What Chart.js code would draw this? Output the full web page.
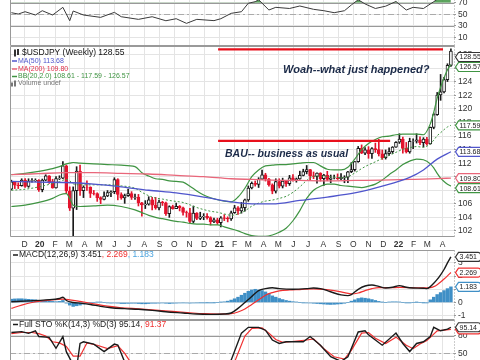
<!DOCTYPE html>
<html>
<head>
<meta charset="utf-8">
<title>USDJPY weekly</title>
<script src="https://cdn.jsdelivr.net/npm/chart.js@4.4.1/dist/chart.umd.min.js"></script>
<style>
  html, body { margin: 0; padding: 0; background: #fff; }
  body { width: 480px; height: 360px; overflow: hidden; position: relative; }
  .pane { position: absolute; left: 0; width: 480px; }
</style>
</head>
<body>
<div class="pane" style="top:-16px;height:62px"><canvas id="rsiChart"></canvas></div>
<div class="pane" style="top:46px;height:204px"><canvas id="priceChart"></canvas></div>
<div class="pane" style="top:250px;height:70px"><canvas id="macdChart"></canvas></div>
<div class="pane" style="top:320px;height:70px"><canvas id="stoChart"></canvas></div>
<script>
// weekly candles, week 0 = 4 Nov 2019
const opens = [108.15,109.26,108.77,108.67,109.50,108.58,109.37,109.42,109.45,
  108.10,109.49,110.14,109.28,108.35,109.74,109.77,111.59,107.89,105.37,107.95,110.83,107.94,108.48,108.46,107.54,107.52,106.91,106.66,107.15,107.64,107.78,109.59,107.37,106.87,107.20,107.51,106.93,107.01,106.13,105.84,105.93,106.60,105.80,105.38,106.24,106.16,104.55,105.59,105.30,105.61,105.42,104.72,104.66,103.39,104.63,103.86,104.08,104.16,103.95,103.35,103.63,
  103.22,103.94,103.86,103.78,104.68,105.39,104.95,105.43,106.57,108.33,109.04,108.88,109.65,110.27,109.66,108.81,107.86,109.30,108.60,109.37,108.96,109.84,109.50,109.67,110.21,110.76,111.05,110.14,110.06,110.55,109.71,110.24,109.60,109.81,109.84,109.71,109.90,109.94,110.74,111.05,112.24,114.21,113.48,113.98,113.40,114.14,114.01,113.38,112.80,113.40,113.71,114.38,
  115.09,115.56,114.19,113.67,115.24,115.26,115.44,115.01,115.55,114.84,117.29,119.16,122.06,122.52,124.34,126.45];
const highs = [109.49,109.29,109.11,109.70,109.73,109.70,109.71,109.69,109.56,
  109.66,110.29,110.16,109.63,110.02,110.14,112.23,111.73,108.50,108.50,111.48,111.71,108.66,109.38,108.51,107.97,107.63,107.04,107.77,107.96,107.90,109.85,109.71,107.63,107.44,108.16,107.80,107.44,107.39,106.23,106.47,107.05,106.95,106.95,106.55,106.38,106.25,105.71,105.80,106.11,105.75,105.51,104.93,105.34,105.67,104.70,104.76,104.55,104.57,104.09,103.89,103.88,
  104.10,104.40,104.08,104.93,105.77,105.60,106.22,106.69,108.64,109.23,109.37,109.86,110.97,110.51,109.77,108.95,109.70,109.70,109.79,109.41,110.20,110.33,109.81,110.82,111.11,111.66,111.10,110.70,110.59,110.59,110.37,110.80,110.25,110.26,110.42,110.45,110.15,110.79,112.08,112.25,114.47,114.70,114.32,114.44,114.30,114.97,115.52,113.95,113.95,114.26,114.45,115.19,
  116.35,115.85,115.06,115.69,115.58,116.34,115.88,115.77,115.80,117.34,119.41,122.44,125.10,124.68,126.68,128.90];
const lows = [108.05,108.25,108.25,108.60,108.42,108.43,109.20,109.29,107.84,
  107.77,109.40,109.00,108.30,108.31,109.57,109.72,107.50,105.01,101.18,105.15,107.23,106.92,107.97,106.92,107.30,106.36,106.02,106.59,107.05,107.06,107.50,106.58,106.67,106.07,107.10,106.64,106.66,105.68,104.19,105.30,105.80,105.10,105.20,105.10,105.75,104.28,104.00,105.20,105.29,104.95,104.34,104.03,103.18,103.18,103.66,103.66,103.65,103.75,102.87,103.20,102.96,
  102.59,103.52,103.33,103.55,104.59,104.45,104.62,104.92,106.37,108.20,108.61,108.41,109.59,109.36,108.61,107.48,107.59,108.34,108.34,108.56,108.72,109.36,109.19,109.62,110.12,110.42,109.53,109.71,109.06,109.36,108.72,109.41,109.11,109.69,109.59,109.58,109.11,109.12,110.60,110.83,112.13,113.41,113.26,112.72,112.72,113.59,113.06,112.55,112.60,113.14,113.42,114.34,
  114.91,113.49,113.50,113.47,114.15,114.97,114.73,114.39,114.65,114.80,117.07,119.06,121.28,122.39,124.05,126.30];
const closes = [109.26,108.77,108.67,109.50,108.58,109.37,109.42,109.45,108.10,
  109.49,110.14,109.28,108.35,109.74,109.77,111.59,107.89,105.37,107.95,110.83,107.94,108.48,108.46,107.54,107.52,106.91,106.66,107.15,107.64,107.78,109.59,107.37,106.87,107.20,107.51,106.93,107.01,106.13,105.84,105.93,106.60,105.80,105.38,106.24,106.16,104.55,105.59,105.30,105.61,105.42,104.72,104.66,103.39,104.63,103.86,104.08,104.16,103.95,103.35,103.63,103.22,
  103.94,103.86,103.78,104.68,105.39,104.95,105.43,106.57,108.33,109.04,108.88,109.65,110.27,109.66,108.81,107.86,109.30,108.60,109.37,108.96,109.84,109.50,109.67,110.21,110.76,111.05,110.14,110.06,110.55,109.71,110.24,109.60,109.81,109.84,109.71,109.90,109.94,110.74,111.05,112.24,114.21,113.48,113.98,113.40,114.14,114.01,113.38,112.80,113.40,113.71,114.38,115.09,
  115.56,114.19,113.67,115.24,115.26,115.44,115.01,115.55,114.84,117.29,119.16,122.06,122.52,124.34,126.45,128.55];

// overlays (week index -> value)
const maWeeks = [0,8,16,24,32,40,48,56,64,70,76,84,92,100,108,116,120,124,128];
const ma50  = [109.3,109.2,109.15,108.9,108.5,108.0,107.6,107.0,106.3,106.0,106.0,106.5,107.0,107.6,108.6,109.9,111.0,112.6,113.68];
const ma200 = [110.3,110.45,110.6,110.6,110.5,110.4,110.2,110.0,109.7,109.6,109.5,109.45,109.4,109.45,109.5,109.6,109.65,109.72,109.80];

const bbWeeks = [0,4,8,12,14,16,17,18,20,24,28,32,36,38,40,42,44,46,48,50,52,54,56,58,60,62,64,66,68,70,72,74,76,78,80,82,84,86,88,90,92,94,96,98,100,102,104,106,108,110,112,114,116,118,120,122,123,124,125,126,127,128];
const bbUpper = [110.3,110.5,110.8,111.2,111.5,111.9,112.0,112.1,112.0,111.9,111.8,111.7,111.5,110.6,110.1,109.7,109.6,109.4,109.3,109.2,108.6,107.9,107.3,106.9,106.6,106.4,106.3,107.0,108.3,110.0,111.0,111.6,111.7,111.8,111.8,111.9,112.0,112.1,112.1,111.6,111.1,111.0,111.0,111.4,112.6,114.0,114.9,115.5,115.9,116.0,116.2,116.3,116.3,116.3,116.2,117.8,119.5,121.6,123.2,124.6,125.8,126.57];
const bbMid = [108.0,108.15,108.5,109.0,109.3,109.6,109.4,108.95,108.8,108.8,108.8,108.65,108.3,107.7,107.2,106.85,106.7,106.5,106.35,106.2,105.85,105.45,105.15,104.9,104.75,104.5,104.3,104.5,104.95,105.65,106.1,106.4,106.55,106.8,107.1,107.7,108.5,109.45,110.05,110.1,110.0,109.95,109.85,110.0,110.55,111.2,111.75,112.2,112.7,113.15,113.6,114.05,114.3,114.45,114.35,114.85,115.4,116.05,116.5,116.95,117.35,117.59];
const bbLower = [105.6,105.8,106.2,106.8,107.3,107.5,106.8,105.8,105.6,105.7,105.8,105.6,105.1,104.7,104.3,104.0,103.8,103.6,103.4,103.3,103.1,103.0,103.0,102.9,102.9,102.6,102.3,102.0,101.6,101.3,101.2,101.2,101.4,101.8,102.4,103.5,105.0,106.8,108.0,108.6,108.9,108.9,108.7,108.6,108.5,108.4,108.6,108.9,109.5,110.3,111.0,111.8,112.3,112.6,112.5,111.9,111.3,110.5,109.8,109.3,108.9,108.61];

// hand drawn levels on the price panel
const topLineWeeks = [60.2, 125.7];
const topLineLevel = 128.8;
const bauLineWeeks = [60.2, 110.3];
const bauLineLevel = 115.3;

// RSI (top, cut off)
const rsiWeeks = [0,2,4,7,9,12,15,17,18,21,26,30,32,37,41,45,48,51,54,59,61,64,67,69,71,72,75,77,81,84,88,91,94,97,99,101,103,106,109,112,115,117,120,123,125,127,128];
const rsiVals = [52.8,50.5,54.5,48.8,56.2,48.8,62,39,55.7,48.8,44.8,53.4,45.9,41.4,45.9,39,42.5,34.5,41.4,39.2,42.5,51.7,54.5,69,71.7,75,57.4,62,60,64.3,58.6,56.2,52.8,56.2,66,75,67.8,60,64,72,57.4,62,60,71.7,80,85,87];

// MACD(12,26,9)
const macdWeeks = [0,5,10,14,15,16,18,20,23,26,29,33,37,41,45,50,54,58,62,64,66,68,70,71,72,74,76,78,82,86,88,90,92,94,96,98,99,101,103,105,107,109,111,113,115,117,120,121,122,123,124,125,126,127,128];
const macdVals = [0.05,0.12,0.2,0.3,0.4,0.15,0.0,-0.05,-0.15,-0.3,-0.4,-0.47,-0.52,-0.6,-0.7,-0.8,-0.88,-0.9,-0.88,-0.8,-0.45,0.0,0.45,0.7,0.9,1.05,1.12,1.05,1.0,1.05,1.1,1.05,0.9,0.72,0.58,0.52,0.6,1.0,1.25,1.32,1.22,1.1,1.15,1.28,1.15,1.1,1.08,1.05,1.2,1.45,1.75,2.1,2.5,3.0,3.451];
const sigWeeks = [0,3,6,9,12,15,17,20,24,28,32,37,42,47,52,56,60,64,66,68,70,72,74,76,78,81,84,88,91,94,97,99,101,103,105,107,110,113,116,120,122,123,124,125,126,127,128];
const sigVals = [-0.45,-0.2,0.0,0.12,0.2,0.25,0.2,0.08,-0.1,-0.28,-0.4,-0.48,-0.57,-0.68,-0.78,-0.85,-0.88,-0.85,-0.72,-0.5,-0.15,0.2,0.55,0.75,0.88,0.95,0.98,1.03,1.0,0.9,0.75,0.65,0.72,0.9,1.05,1.13,1.12,1.14,1.13,1.1,1.12,1.2,1.35,1.55,1.78,2.02,2.269];
const histVals = [0.25,0.27,0.28,0.28,0.26,0.24,0.22,0.2,0.15,
  0.12,0.14,0.12,0.08,0.06,0.08,0.15,
  -0.05,-0.2,-0.3,-0.25,-0.2,-0.12,-0.05,
  -0.02,0.0,0.02,0.02,0.0,-0.03,-0.05,-0.04,-0.05,-0.08,-0.08,-0.07,-0.06,
  -0.06,-0.08,-0.1,-0.1,-0.08,-0.06,-0.06,-0.05,-0.04,-0.06,-0.08,-0.06,-0.05,-0.04,-0.03,-0.04,-0.05,-0.04,-0.03,-0.02,-0.02,-0.01,-0.02,-0.01,0.0,
  0.02,0.05,0.1,0.18,0.28,0.4,0.55,0.7,0.85,0.95,1.0,0.95,0.9,0.8,0.65,0.5,0.4,0.3,0.22,0.15,
  0.1,0.06,0.03,0.0,-0.02,-0.03,-0.04,-0.06,-0.08,-0.1,-0.12,-0.14,-0.15,-0.14,-0.12,-0.1,-0.06,0.0,
  0.1,0.2,0.3,0.35,0.32,0.28,0.22,0.15,0.08,0.02,
  0.0,0.03,0.05,0.05,0.03,0.0,-0.02,-0.02,0.0,0.01,0.0,-0.01,-0.02,
  0.2,0.4,0.6,0.75,0.9,1.05,1.183];

// Full STO %K(14,3) %D(3)
const stoKWeeks = [0,3,5,7,8,11,13,15,16,18,19,20,21,24,27,30,31,33,36,40,44,48,52,56,60,62,64,67,69,72,74,76,78,80,82,85,87,90,93,96,98,101,103,104,108,112,114,116,118,120,122,123,125,127,128];
const stoK = [86,87.5,84.6,89,79,77.7,58.7,78.8,52.8,30,25,67,70,66,52.8,66,64.4,35,22,28,15,22,8,20,12,20,38,85,95,95,90,73,67,70,70,70,79,64,44,36,44,87,89,82,64,85,67,53,67,70,79,95,89,92,95.14];
const stoDWeeks = [0,3,6,8,10,12,14,16,18,20,22,25,28,31,33,35,38,42,46,50,54,58,62,65,68,70,73,75,77,79,81,86,88,91,94,97,99,102,104,106,109,112,115,117,119,121,124,126,128];
const stoD = [84,86,86,84,80,70,68,62,45,45,68,64,58,63,50,32,25,25,20,18,15,17,15,35,80,93,94,85,74,69,70,73,75,58,44,40,55,85,86,76,67,78,64,58,66,72,89,90,91.37];

// month axis
const monthPos = [3.86,8.29,12.71,16.86,21.29,25.57,30.0,34.29,38.71,43.14,47.43,51.86,56.14,60.57,65.0,69.0,73.43,77.71,82.14,86.43,90.86,95.29,99.57,104.0,108.29,112.71,117.14,121.14,125.57];
const monthLabels = ['D','20','F','M','A','M','J','J','A','S','O','N','D','21','F','M','A','M','J','J','A','S','O','N','D','22','F','M','A'];
const priceTicks = [102,104,106,108,110,112,114,116,118,120,122,124,126,128];

const FONT = '"Liberation Sans", Arial, sans-serif';
const BLACK = '#1a1a1a', RED = '#e3142d', BLUE = '#4f55cc', PINK = '#e9667a', GREEN = '#3f9442', HIST = '#3f8fc6', GRID = '#e4e4e4';

const xy = (xs, ys) => xs.map((x, k) => ({ x: x, y: ys[k] }));
const last = a => a[a.length - 1];

function drawTag(ctx, x, y, text, color) {
  ctx.save();
  ctx.font = '7px ' + FONT;
  const w = ctx.measureText(text).width + 2, h = 9, top = y - h / 2;
  ctx.beginPath();
  ctx.moveTo(x, y);
  ctx.lineTo(x + 3, top);
  ctx.lineTo(x + 3 + w, top);
  ctx.quadraticCurveTo(x + 6 + w, top, x + 6 + w, y);
  ctx.quadraticCurveTo(x + 6 + w, top + h, x + 3 + w, top + h);
  ctx.lineTo(x + 3, top + h);
  ctx.closePath();
  ctx.fillStyle = '#fff';
  ctx.fill();
  ctx.lineWidth = 1.2;
  ctx.strokeStyle = color;
  ctx.stroke();
  ctx.fillStyle = '#222';
  ctx.textBaseline = 'middle';
  ctx.fillText(text, x + 4, y + 0.5);
  ctx.restore();
}

// frame, reference lines, legend rows, notes and value tags for one panel
function panel(cfg) {
  return {
    id: 'panel',
    beforeDatasetsDraw(chart) {
      const ctx = chart.ctx, a = chart.chartArea, y = chart.scales.y;
      (cfg.refs || []).forEach(r => {
        const py = Math.round(y.getPixelForValue(r.v)) + 0.5;
        ctx.save();
        ctx.strokeStyle = r.color;
        ctx.lineWidth = 1;
        ctx.setLineDash(r.dash || []);
        ctx.beginPath();
        ctx.moveTo(a.left, py);
        ctx.lineTo(a.right, py);
        ctx.stroke();
        ctx.restore();
      });
    },
    afterDraw(chart) {
      const ctx = chart.ctx, a = chart.chartArea, x = chart.scales.x, y = chart.scales.y;
      const L = Math.round(a.left) + 0.5, R = Math.round(a.right) + 0.5;
      const T = Math.round(a.top) + 0.5, B = Math.round(a.bottom) - 0.5;
      ctx.save();
      ctx.strokeStyle = '#999';
      ctx.lineWidth = 1;
      ctx.beginPath();
      ctx.moveTo(R, T); ctx.lineTo(L, T); ctx.lineTo(L, B); ctx.lineTo(R, B);
      ctx.stroke();
      ctx.setLineDash([1, 2]);
      ctx.beginPath();
      ctx.moveTo(R, T); ctx.lineTo(R, B);
      ctx.stroke();
      ctx.restore();

      (cfg.notes || []).forEach(n => {
        ctx.save();
        ctx.font = n.font;
        ctx.fillStyle = n.color;
        ctx.textBaseline = 'middle';
        ctx.fillText(n.t, x.getPixelForValue(n.wx), y.getPixelForValue(n.wy));
        ctx.restore();
      });

      (cfg.rows || []).forEach(r => {
        ctx.save();
        ctx.font = r.font;
        ctx.textBaseline = 'middle';
        let px = a.left + r.dx;
        const py = a.top + r.dy;
        if (r.dash) {
          ctx.strokeStyle = r.dash;
          ctx.lineWidth = 1.5;
          ctx.beginPath();
          ctx.moveTo(px, py); ctx.lineTo(px + 5, py);
          ctx.stroke();
          px += 6;
        }
        if (r.icon === 'candle') {
          ctx.fillStyle = '#333';
          ctx.fillRect(px - 8, py - 3, 2, 6);
          ctx.fillRect(px - 5, py - 4, 2, 6);
          ctx.fillRect(px - 7.5, py - 4, 1, 8);
        }
        if (r.icon === 'vol') {
          ctx.fillStyle = '#777';
          ctx.fillRect(px - 7, py - 1, 2, 4);
          ctx.fillRect(px - 4, py - 3, 2, 6);
        }
        r.parts.forEach(p => {
          ctx.fillStyle = p[1];
          ctx.fillText(p[0], px, py);
          px += ctx.measureText(p[0]).width;
        });
        ctx.restore();
      });

      const tags = (cfg.tags || []).map(t => ({ v: t.v, d: t.d, color: t.color, py: y.getPixelForValue(t.v) }));
      if (cfg.spread) {
        tags.sort((p, q) => p.py - q.py);
        let prev = a.top + cfg.spread.top - cfg.spread.gap;
        tags.forEach(t => {
          if (t.py < prev + cfg.spread.gap) t.py = prev + cfg.spread.gap;
          prev = t.py;
        });
      }
      tags.forEach(t => drawTag(ctx, R + 1, t.py, t.v.toFixed(t.d), t.color));
    }
  };
}

function xAxis(showLabels) {
  return {
    type: 'linear', min: -0.4, max: 128.9, offset: false,
    afterBuildTicks: ax => { ax.ticks = monthPos.map(v => ({ value: v })); },
    afterFit: ax => {
      ax.height = showLabels ? 13 : 0;
      ax.paddingLeft = 0; ax.paddingRight = 0;
    },
    grid: { color: GRID, drawTicks: false, offset: false },
    border: { display: false },
    ticks: {
      display: showLabels, autoSkip: false, maxRotation: 0, padding: 3, color: '#333',
      callback: (v, i) => monthLabels[i],
      font: c => ({ family: FONT, size: 8.5, weight: /\d/.test(monthLabels[c.index] || '') ? 'bold' : 'normal' })
    }
  };
}

function yAxis(min, max, ticks) {
  return {
    position: 'right', min: min, max: max,
    afterBuildTicks: ax => { ax.ticks = ticks.map(v => ({ value: v })); },
    afterFit: ax => {
      ax.width = 26;
      ax.paddingTop = 0; ax.paddingBottom = 0;
    },
    grid: { color: GRID, drawTicks: true, tickLength: 2, tickColor: '#999' },
    border: { display: false },
    ticks: { autoSkip: false, padding: 2, color: '#333', font: { family: FONT, size: 8.5 } }
  };
}

function baseOptions(x, y) {
  return {
    responsive: true, maintainAspectRatio: false, animation: false,
    layout: { padding: { left: 10, right: 0, top: 0, bottom: 0 } },
    plugins: { legend: { display: false }, tooltip: { enabled: false } },
    scales: { x: x, y: y }
  };
}

// ---- RSI strip at the top
new Chart(document.getElementById('rsiChart'), {
  type: 'line',
  data: {
    datasets: [{
      data: xy(rsiWeeks, rsiVals), borderColor: '#3a3a3a', borderWidth: 1, pointRadius: 0, tension: 0,
      fill: { target: { value: 70 }, above: 'rgba(63,148,66,0.85)', below: 'rgba(0,0,0,0)' }
    }]
  },
  options: baseOptions(xAxis(false), yAxis(-4.3, 102, [10, 30, 50, 70, 90])),
  plugins: [panel({
    refs: [{ v: 70, color: '#999' }, { v: 30, color: '#999' }, { v: 50, color: '#aaa', dash: [6, 3, 2, 3] }]
  })]
});

// ---- price panel
const candleColor = closes.map((c, i) => (i === 0 ? c >= opens[0] : c >= closes[i - 1]) ? BLACK : RED);
const bodyFill = closes.map((c, i) => c < opens[i] ? candleColor[i] : '#fff');

new Chart(document.getElementById('priceChart'), {
  type: 'bar',
  data: {
    datasets: [
      { type: 'line', data: xy(topLineWeeks, [topLineLevel, topLineLevel]), borderColor: '#e8101c', borderWidth: 2.2, pointRadius: 0, order: 0 },
      { type: 'line', data: xy(bauLineWeeks, [bauLineLevel, bauLineLevel]), borderColor: '#e8101c', borderWidth: 2.2, pointRadius: 0, order: 0 },
      { type: 'line', data: xy(maWeeks, ma50), borderColor: BLUE, borderWidth: 1.3, pointRadius: 0, cubicInterpolationMode: 'monotone', order: 1 },
      { type: 'line', data: xy(maWeeks, ma200), borderColor: PINK, borderWidth: 1.3, pointRadius: 0, cubicInterpolationMode: 'monotone', order: 1 },
      { type: 'line', data: xy(bbWeeks, bbUpper), borderColor: GREEN, borderWidth: 1.2, pointRadius: 0, cubicInterpolationMode: 'monotone', order: 1 },
      { type: 'line', data: xy(bbWeeks, bbMid), borderColor: GREEN, borderWidth: 1, borderDash: [2, 2], pointRadius: 0, cubicInterpolationMode: 'monotone', order: 1 },
      { type: 'line', data: xy(bbWeeks, bbLower), borderColor: GREEN, borderWidth: 1.2, pointRadius: 0, cubicInterpolationMode: 'monotone', order: 1 },
      { data: closes.map((c, i) => ({ x: i, y: [opens[i], c] })), backgroundColor: bodyFill, borderColor: candleColor,
        borderWidth: 1, borderSkipped: false, barThickness: 3, grouped: false, order: 2 },
      { data: closes.map((c, i) => ({ x: i, y: [lows[i], highs[i]] })), backgroundColor: candleColor,
        borderWidth: 0, barThickness: 1, grouped: false, order: 3 }
    ]
  },
  options: baseOptions(xAxis(true), yAxis(101.1, 129.3, priceTicks)),
  plugins: [panel({
    rows: [
      { dx: 12, dy: 7, font: '8.5px ' + FONT, icon: 'candle', parts: [['$USDJPY (Weekly) ' + last(closes).toFixed(2), '#111']] },
      { dx: 2, dy: 15, font: '7px ' + FONT, dash: BLUE, parts: [['MA(50) ' + last(ma50).toFixed(2), BLUE]] },
      { dx: 2, dy: 23, font: '7px ' + FONT, dash: PINK, parts: [['MA(200) ' + last(ma200).toFixed(2), '#e0304a']] },
      { dx: 2, dy: 30.5, font: '7px ' + FONT, dash: GREEN, parts: [['BB(20,2.0) ' + last(bbLower).toFixed(2) + ' - ' + last(bbMid).toFixed(2) + ' - ' + last(bbUpper).toFixed(2), GREEN]] },
      { dx: 8, dy: 37.5, font: '7px ' + FONT, icon: 'vol', parts: [['Volume undef', '#777']] }
    ],
    notes: [
      { t: 'Woah--what just happened?', wx: 79.1, wy: 125.7, font: 'italic bold 11px ' + FONT, color: '#1b2a48' },
      { t: 'BAU-- business as usual', wx: 62.2, wy: 113.3, font: 'italic bold 10.5px ' + FONT, color: '#1b2a48' }
    ],
    tags: [
      { v: last(closes), d: 2, color: '#333' },
      { v: last(bbUpper), d: 2, color: GREEN },
      { v: last(bbMid), d: 2, color: GREEN },
      { v: last(ma50), d: 2, color: BLUE },
      { v: last(ma200), d: 2, color: PINK },
      { v: last(bbLower), d: 2, color: GREEN }
    ],
    spread: { top: 11, gap: 10 }
  })]
});

// ---- MACD panel
new Chart(document.getElementById('macdChart'), {
  type: 'bar',
  data: {
    datasets: [
      { type: 'line', data: xy(macdWeeks, macdVals), borderColor: BLACK, borderWidth: 1.4, pointRadius: 0, cubicInterpolationMode: 'monotone', order: 0 },
      { type: 'line', data: xy(sigWeeks, sigVals), borderColor: '#f03030', borderWidth: 1.2, pointRadius: 0, cubicInterpolationMode: 'monotone', order: 1 },
      { data: histVals.map((h, i) => ({ x: i, y: h })), backgroundColor: HIST, barThickness: 2.8, grouped: false, order: 2 }
    ]
  },
  options: baseOptions(xAxis(false), yAxis(-1.33, 3.98, [-1, 0, 1, 2, 3])),
  plugins: [panel({
    rows: [
      { dx: 3, dy: 5, font: '8.5px ' + FONT, dash: BLACK, parts: [
        ['MACD(12,26,9) ' + last(macdVals).toFixed(3), BLACK], [', ' + last(sigVals).toFixed(3), '#f03030'], [', ' + last(histVals).toFixed(3), '#4aa3df']] }
    ],
    tags: [
      { v: last(macdVals), d: 3, color: '#333' },
      { v: last(sigVals), d: 3, color: '#f03030' },
      { v: last(histVals), d: 3, color: HIST }
    ]
  })]
});

// ---- Full stochastics panel
new Chart(document.getElementById('stoChart'), {
  type: 'line',
  data: {
    datasets: [
      { data: xy(stoKWeeks, stoK), borderColor: BLACK, borderWidth: 1.4, pointRadius: 0, tension: 0, order: 0 },
      { data: xy(stoDWeeks, stoD), borderColor: '#f03030', borderWidth: 1.2, pointRadius: 0, tension: 0, order: 1 }
    ]
  },
  options: baseOptions(xAxis(false), yAxis(-13.6, 107.7, [20, 50, 80])),
  plugins: [panel({
    refs: [{ v: 80, color: '#999' }, { v: 20, color: '#999' }, { v: 50, color: '#aaa', dash: [6, 3, 2, 3] }],
    rows: [
      { dx: 3, dy: 4.5, font: '8.5px ' + FONT, dash: BLACK, parts: [
        ['Full STO %K(14,3) %D(3) ' + last(stoK).toFixed(2), BLACK], [', ' + last(stoD).toFixed(2), '#f03030']] }
    ],
    tags: [
      { v: last(stoD), d: 2, color: '#f03030' },
      { v: last(stoK), d: 2, color: '#333' }
    ]
  })]
});
</script>
</body>
</html>
